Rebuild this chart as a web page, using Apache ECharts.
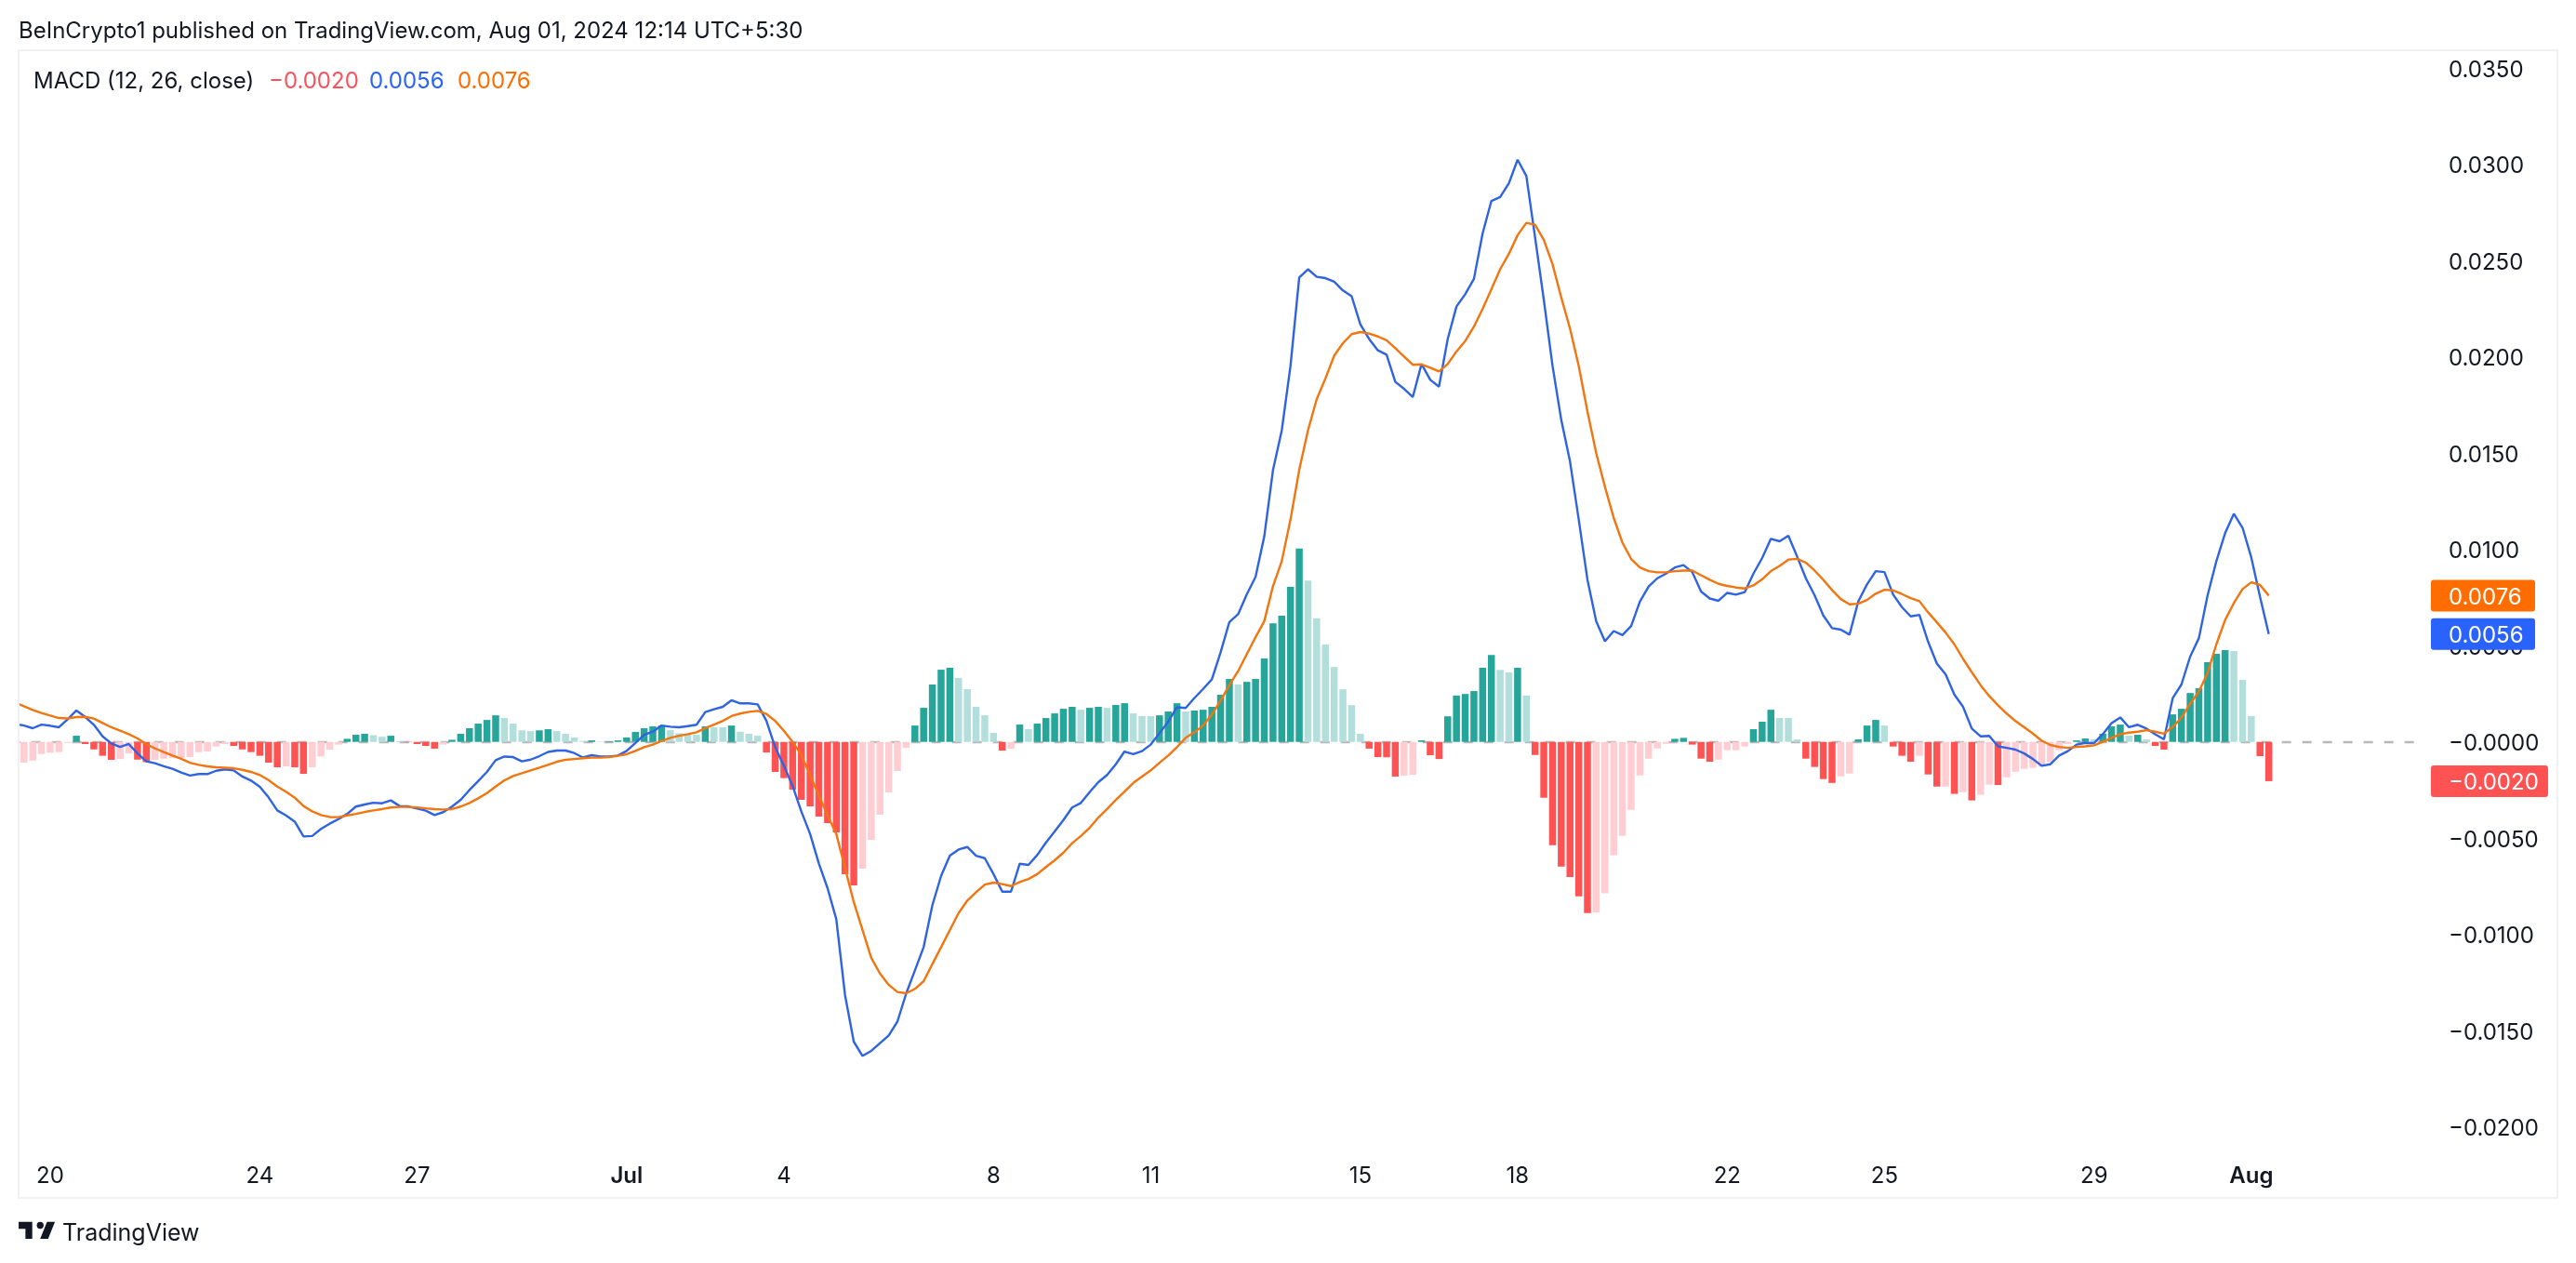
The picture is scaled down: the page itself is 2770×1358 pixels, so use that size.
<!DOCTYPE html>
<html>
<head>
<meta charset="utf-8">
<title>MACD</title>
<script src="https://cdn.jsdelivr.net/npm/echarts@6/dist/echarts.min.js"></script>
<style>
  html, body { margin: 0; padding: 0; background: #fff; }
  #chart { width: 2770px; height: 1358px; }
</style>
</head>
<body>
<div id="chart"></div>
<script>
// 4H bars. First value sits just left of the pane edge.
const histValues = [
  -0.00115,-0.00108,-0.00097,-0.00063,-0.00056,-0.00053,-0.00005,0.00032,-0.00011,-0.00039,-0.00072,-0.00093,-0.00089,-0.0006,-0.00092,-0.00105,
  -0.00093,-0.00087,-0.00084,-0.00084,-0.00079,-0.00053,-0.0005,-0.00024,-0.00011,-0.00021,-0.00039,-0.00053,-0.00072,-0.00108,-0.00132,-0.00127,
  -0.00132,-0.00166,-0.00132,-0.00076,-0.0004,-0.00014,0.00016,0.00037,0.00042,0.00035,0.00027,0.00032,0.00003,-0.00002,-0.00011,-0.00021,
  -0.00035,-0.00014,0.00011,0.00042,0.00071,0.00095,0.00114,0.00138,0.00124,0.00095,0.0006,0.00056,0.0006,0.00066,0.00056,0.00042,
  0.00023,0.00005,0.00008,0.00002,0.00003,0.00008,0.00023,0.00052,0.00071,0.00081,0.00085,0.00061,0.00045,0.00037,0.00037,0.00081,
  0.00076,0.00076,0.00085,0.00053,0.00042,0.00032,-0.00055,-0.00156,-0.00188,-0.00248,-0.00301,-0.00335,-0.00388,-0.00422,-0.0047,-0.00687,
  -0.00745,-0.00658,-0.00509,-0.00378,-0.00262,-0.00151,-0.00031,0.00085,0.00177,0.00298,0.00375,0.00385,0.00332,0.00274,0.00182,0.00138,
  0.00047,-0.00045,-0.00035,0.0009,0.00066,0.00095,0.00124,0.00148,0.00172,0.00182,0.00167,0.00177,0.00182,0.00177,0.00192,0.00201,
  0.00148,0.00134,0.00134,0.00138,0.00158,0.00201,0.00158,0.00163,0.00167,0.00182,0.00245,0.00327,0.00298,0.00312,0.00327,0.00433,
  0.00616,0.00655,0.00805,0.01004,0.00838,0.00642,0.00506,0.00389,0.00273,0.00191,0.00042,-0.00035,-0.00079,-0.0008,-0.0018,-0.00175,
  -0.00171,0.00008,-0.00069,-0.00089,0.00133,0.00241,0.00249,0.00264,0.00385,0.00452,0.00374,0.00361,0.00385,0.00241,-0.00068,-0.0029,
  -0.00536,-0.00647,-0.00702,-0.00802,-0.00889,-0.00886,-0.00787,-0.00589,-0.00488,-0.00353,-0.00174,-0.00087,-0.00034,-0.0001,0.00016,0.00021,
  -0.00014,-0.00087,-0.00103,-0.00092,-0.00043,-0.00043,-0.00024,0.00066,0.00105,0.00167,0.00124,0.00124,0.00013,-0.00087,-0.0013,-0.00193,
  -0.00213,-0.00179,-0.00164,0.00013,0.00085,0.00114,0.00085,-0.00024,-0.00072,-0.00103,-0.00072,-0.00169,-0.00232,-0.00232,-0.0027,-0.00261,
  -0.00304,-0.00275,-0.00222,-0.00224,-0.00184,-0.00155,-0.0014,-0.00135,-0.00129,-0.00105,-0.00043,-0.00011,0.00008,0.00018,0.00013,0.00042,
  0.00081,0.0009,0.00032,0.00037,0.00013,-0.00021,-0.0004,0.00143,0.00172,0.00254,0.00279,0.00414,0.00457,0.00477,0.00472,0.00322,
  0.00134,-0.00074,-0.00204
];

const macdValues = [
  0.00093,0.00085,0.00071,0.0009,0.00084,0.00076,0.00118,0.00163,0.0013,0.00089,0.00029,-0.00008,-0.00026,-0.00011,-0.0006,-0.00101,
  -0.00111,-0.00126,-0.0014,-0.00159,-0.00175,-0.00167,-0.00167,-0.0015,-0.00143,-0.00148,-0.0018,-0.00201,-0.00233,-0.00288,-0.00356,-0.00382,
  -0.00414,-0.00491,-0.00489,-0.00452,-0.00425,-0.00401,-0.00374,-0.00336,-0.00325,-0.00316,-0.00319,-0.00304,-0.00333,-0.00335,-0.00346,-0.00357,
  -0.0038,-0.00365,-0.00336,-0.00301,-0.0025,-0.00204,-0.00156,-0.00095,-0.00076,-0.00079,-0.00101,-0.00092,-0.00074,-0.00052,-0.00045,-0.00045,
  -0.00058,-0.00081,-0.00069,-0.00076,-0.00076,-0.00071,-0.00047,-0.00006,0.00037,0.00053,0.00085,0.00079,0.00076,0.00082,0.00089,0.00155,
  0.00169,0.00182,0.00216,0.002,0.002,0.00195,0.00109,-0.00027,-0.00124,-0.00229,-0.00362,-0.00478,-0.00631,-0.0076,-0.00921,-0.01315,
  -0.01557,-0.01631,-0.01605,-0.01565,-0.01525,-0.01452,-0.01307,-0.01187,-0.01066,-0.00848,-0.00696,-0.00591,-0.00559,-0.00546,-0.00591,-0.00604,
  -0.00687,-0.00778,-0.00778,-0.00633,-0.00639,-0.00588,-0.00523,-0.00465,-0.00406,-0.00341,-0.00317,-0.00261,-0.00209,-0.00172,-0.00116,-0.0005,
  -0.00064,-0.00048,-0.00014,0.00045,0.00105,0.0018,0.00176,0.00228,0.00275,0.00325,0.00465,0.00622,0.00663,0.00767,0.00857,0.01068,
  0.01413,0.01618,0.01953,0.02412,0.02455,0.02416,0.02409,0.0239,0.02345,0.02315,0.02168,0.02093,0.02034,0.02011,0.0187,0.01834,
  0.01791,0.01963,0.01881,0.01845,0.02093,0.02261,0.02325,0.02405,0.02642,0.0281,0.0283,0.02901,0.03024,0.0294,0.02621,0.02297,
  0.01953,0.01672,0.01457,0.01155,0.00842,0.00627,0.00523,0.00576,0.00555,0.00602,0.00729,0.00807,0.0085,0.00874,0.00906,0.00918,
  0.00882,0.00781,0.00745,0.00733,0.00774,0.00765,0.00778,0.00874,0.00955,0.01055,0.01042,0.01071,0.00963,0.0085,0.00762,0.00657,
  0.00591,0.00583,0.00557,0.00729,0.00818,0.00887,0.00882,0.00765,0.007,0.00652,0.0066,0.0052,0.00407,0.00351,0.00246,0.00182,
  0.00069,0.00029,0.00031,-0.00023,-0.00031,-0.0004,-0.0006,-0.00089,-0.00124,-0.00116,-0.00071,-0.00048,-0.00014,-0.00005,-0.00006,0.0004,
  0.00097,0.00127,0.00076,0.00089,0.00069,0.0004,0.00013,0.00227,0.00298,0.00443,0.00539,0.00762,0.00939,0.01084,0.01185,0.01112,
  0.00958,0.00753,0.0056
];

const signalValues = [
  0.00204,0.00185,0.00166,0.0015,0.00137,0.00124,0.00122,0.00129,0.0013,0.00121,0.00098,0.00076,0.00058,0.0004,0.00018,-0.00011,
  -0.00034,-0.00053,-0.00071,-0.00088,-0.00108,-0.00119,-0.00127,-0.00132,-0.00134,-0.00137,-0.00145,-0.00156,-0.00172,-0.00198,-0.00232,-0.00259,
  -0.0029,-0.00333,-0.00361,-0.0038,-0.0039,-0.00391,-0.00382,-0.00374,-0.00364,-0.00356,-0.00349,-0.00341,-0.00338,-0.00338,-0.0034,-0.00345,
  -0.00349,-0.00351,-0.00349,-0.00336,-0.00317,-0.00293,-0.00266,-0.00232,-0.002,-0.00177,-0.00163,-0.00148,-0.00134,-0.00119,-0.00103,-0.00093,
  -0.00089,-0.00085,-0.00082,-0.00082,-0.00079,-0.00072,-0.00064,-0.00047,-0.00027,-0.00014,0.00005,0.00021,0.00032,0.0004,0.0005,0.00072,
  0.0009,0.00109,0.00134,0.00147,0.00156,0.00161,0.00145,0.00109,0.00058,0,-0.00068,-0.00172,-0.00277,-0.00382,-0.00478,-0.00655,
  -0.00832,-0.00977,-0.01122,-0.01203,-0.01262,-0.01299,-0.01306,-0.01283,-0.01243,-0.01154,-0.01066,-0.00977,-0.00889,-0.00824,-0.00781,-0.00741,
  -0.00731,-0.00739,-0.00749,-0.00728,-0.00712,-0.00687,-0.0065,-0.00615,-0.00575,-0.00526,-0.00489,-0.00446,-0.00393,-0.00349,-0.00301,-0.00258,
  -0.00213,-0.0018,-0.00148,-0.00108,-0.00071,-0.00027,0.00021,0.0005,0.00085,0.00142,0.00214,0.00295,0.00367,0.00456,0.00544,0.00627,
  0.0081,0.00939,0.01155,0.01413,0.01618,0.0178,0.01888,0.02006,0.02071,0.02118,0.02129,0.02121,0.02106,0.02086,0.02045,0.02002,
  0.01959,0.01961,0.01944,0.01924,0.01963,0.02028,0.02082,0.02157,0.0225,0.02351,0.02455,0.02535,0.02632,0.02696,0.02686,0.02608,
  0.02481,0.02308,0.02147,0.01953,0.01716,0.015,0.01325,0.01164,0.01035,0.0095,0.00906,0.00887,0.00881,0.00881,0.00887,0.0089,
  0.0089,0.00866,0.00842,0.00821,0.0081,0.00802,0.00797,0.00813,0.00845,0.00887,0.00914,0.00947,0.00951,0.00931,0.0089,0.00842,
  0.00789,0.00742,0.00715,0.00718,0.00737,0.0077,0.0079,0.00787,0.00768,0.00747,0.00731,0.00673,0.00621,0.00568,0.00507,0.00431,
  0.00362,0.00295,0.00238,0.0019,0.00147,0.00108,0.00076,0.00043,0.00006,-0.00016,-0.00026,-0.00031,-0.00026,-0.00023,-0.00018,0,
  0.00021,0.0004,0.00048,0.00053,0.00061,0.00053,0.00043,0.00077,0.00126,0.00198,0.00262,0.00359,0.00507,0.00633,0.00721,0.00794,
  0.00829,0.00815,0.0076
];

const tickDates = ['06-20','06-24','06-27','07-01','07-04','07-08','07-11','07-15','07-18','07-22','07-25','07-29','08-01'];
const tickTexts = ['20','24','27','Jul','4','8','11','15','18','22','25','29','Aug'];
const boldTicks = ['Jul','Aug'];

const headerText = 'BeInCrypto1 published on TradingView.com, Aug 01, 2024 12:14 UTC+5:30';
const legendName = 'MACD (12, 26, close)';

const BLUE = '#2962FF', ORANGE = '#FF6D00', RED = '#FF5252', INK = '#131722';
const FONT = 'Inter';

// 276 slots of 4 hours, the last ones stay empty like the chart's right margin
const categories = [];
for (let i = 0; i < 276; i++) {
    const d = new Date(Date.UTC(2024, 5, 19, 8 + i * 4));
    const p = n => String(n).padStart(2, '0');
    categories.push(p(d.getUTCMonth() + 1) + '-' + p(d.getUTCDate()) + ' ' + p(d.getUTCHours()));
}

function tickText(cat) {
    if (!cat.endsWith(' 00')) return null;
    const idx = tickDates.indexOf(cat.slice(0, 5));
    return idx < 0 ? null : tickTexts[idx];
}

function barColor(v, prev) {
    if (v >= 0) return v > prev ? '#26A69A' : '#B2DFDB';
    return v < prev ? '#FF5252' : '#FFCDD2';
}

function fmt(v) {
    const s = Math.abs(v).toFixed(4);
    return (v < 0 || Math.abs(v) < 1e-9 ? '\u2212' : '') + s;
}

const chart = echarts.init(document.getElementById('chart'), null, { renderer: 'canvas' });

chart.setOption({
    animation: false,
    backgroundColor: '#fff',
    grid: { left: 11.7, right: 166, top: 73.2, bottom: 146.3 },
    xAxis: {
        type: 'category',
        data: categories,
        axisLine: { show: false },
        axisTick: { show: false },
        splitLine: { show: false },
        axisLabel: {
            interval: (i, cat) => tickText(cat) !== null,
            margin: 41,
            color: INK,
            fontFamily: FONT,
            fontSize: 24,
            formatter: cat => {
                const t = tickText(cat);
                return boldTicks.includes(t) ? '{b|' + t + '}' : t;
            },
            rich: { b: { fontFamily: FONT, fontSize: 24, fontWeight: 600, color: INK } }
        }
    },
    yAxis: {
        type: 'value',
        position: 'right',
        min: -0.02,
        max: 0.035,
        interval: 0.005,
        axisLine: { show: false },
        axisTick: { show: false },
        splitLine: { show: false },
        axisLabel: {
            margin: 29,
            color: INK,
            fontFamily: FONT,
            fontSize: 24,
            // rich box with top padding nudges the digits down onto the tick
            formatter: v => '{v|' + fmt(v) + '}',
            rich: { v: { fontFamily: FONT, fontSize: 24, color: INK, padding: [5, 0, 0, 0] } }
        }
    },
    series: [
        {
            name: 'Histogram',
            type: 'bar',
            barWidth: 7.5,
            data: histValues.map((v, i) => ({
                value: v,
                itemStyle: { color: barColor(v, i ? histValues[i - 1] : v) }
            })),
            markLine: {
                silent: true,
                symbol: 'none',
                z: 1,
                label: { show: false },
                lineStyle: { color: '#B8B8BC', type: [10, 12], width: 2.4 },
                data: [{ yAxis: 0 }]
            }
        },
        {
            name: 'MACD',
            type: 'line',
            showSymbol: false,
            symbol: 'none',
            data: macdValues,
            lineStyle: { color: '#2E63E2', width: 2.4 }
        },
        {
            name: 'Signal',
            type: 'line',
            showSymbol: false,
            symbol: 'none',
            data: signalValues,
            lineStyle: { color: '#F2750F', width: 2.4 }
        }
    ]
});

// last value tags sit on the price scale, so they go through the axis too
function valueTag(value, bg, width) {
    const y = chart.convertToPixel({ yAxisIndex: 0 }, value);
    return {
        type: 'group',
        z: 100,
        children: [
            { type: 'rect', z: 100, shape: { x: 2614, y: y - 17, width: width, height: 34, r: 3 }, style: { fill: bg } },
            { type: 'text', z: 101, x: 2633, y: y + 2, style: { text: fmt(value), fill: '#fff', font: '24px ' + FONT, verticalAlign: 'middle' } }
        ]
    };
}

function legendText(text, x, color) {
    return { type: 'text', z: 100, x: x, y: 88, style: { text: text, fill: color, font: '24px ' + FONT, verticalAlign: 'middle' } };
}

const last = a => a[a.length - 1];

chart.setOption({
    graphic: [
        // mask the point before the pane edge, then draw the pane frame
        { type: 'rect', z: 90, shape: { x: 0, y: 40, width: 19, height: 1260 }, style: { fill: '#fff' } },
        { type: 'rect', z: 91, shape: { x: 20, y: 54, width: 2730, height: 1234 }, style: { fill: 'none', stroke: '#F0F1F4', lineWidth: 2 } },
        { type: 'text', z: 100, x: 20, y: 33.5, style: { text: headerText, fill: INK, font: '24px ' + FONT, verticalAlign: 'middle' } },
        legendText(legendName, 36, INK),
        legendText(fmt(last(histValues)), 289, '#F7525F'),
        legendText(fmt(last(macdValues)), 397, BLUE),
        legendText(fmt(last(signalValues)), 492, ORANGE),
        valueTag(last(signalValues), ORANGE, 112),
        valueTag(last(macdValues), BLUE, 112),
        valueTag(last(histValues), RED, 126),
        // TradingView mark
        {
            type: 'group',
            x: 17.6,
            y: 1306.5,
            scaleX: 1.22,
            scaleY: 1.22,
            children: [
                { type: 'polygon', z: 100, shape: { points: [[2, 6], [14, 6], [14, 21], [8, 21], [8, 12], [2, 12]] }, style: { fill: INK } },
                { type: 'polygon', z: 100, shape: { points: [[27, 6], [34, 6], [28, 21], [21, 21]] }, style: { fill: INK } },
                { type: 'circle', z: 100, shape: { cx: 21, cy: 9, r: 3 }, style: { fill: INK } }
            ]
        },
        { type: 'text', z: 100, x: 67, y: 1326, style: { text: 'TradingView', fill: INK, font: '25px ' + FONT, verticalAlign: 'middle' } }
    ]
});
</script>
</body>
</html>
